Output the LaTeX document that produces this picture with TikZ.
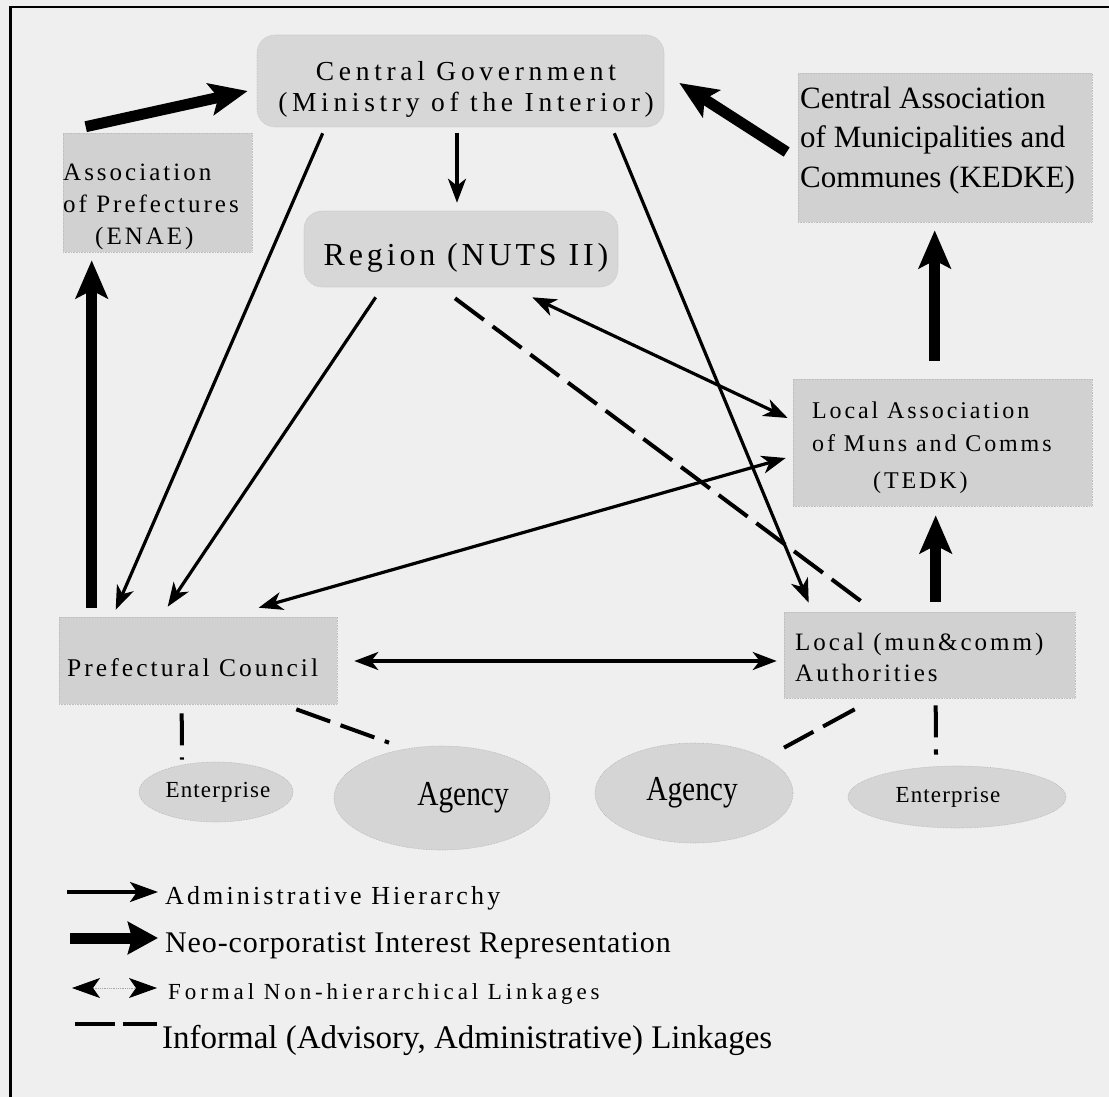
\documentclass[tikz,border=0pt]{standalone}
\usepackage{fontspec}
\setmainfont{Liberation Serif}
\newfontfamily\fa[LetterSpace=12]{Liberation Serif}
\newfontfamily\fb[LetterSpace=17]{Liberation Serif}
\newfontfamily\fc[LetterSpace=5]{Liberation Serif}
\newfontfamily\fd[LetterSpace=3]{Liberation Serif}
\usetikzlibrary{arrows.meta,shapes.geometric,calc}
\definecolor{bgc}{HTML}{EFEFEF}
\definecolor{boxfill}{HTML}{D1D1D1}
\definecolor{roundfill}{HTML}{D7D7D7}
\definecolor{ellfill}{HTML}{D5D5D5}
\begin{document}
\begin{tikzpicture}[x=1pt,y=-1pt,
  box/.style={rectangle, fill=boxfill, draw=black!25, densely dotted, line width=0.6pt, inner sep=0pt},
  rbox/.style={box, rounded corners=18pt, fill=roundfill},
  ell/.style={ellipse, fill=ellfill, draw=black!30, densely dotted, line width=0.6pt, inner sep=0pt},
  txt/.style={inner sep=0pt, text=black},
  adm/.style={line width=3.2pt, -{Stealth[length=24pt,width=18pt,inset=7pt]}},
  formal/.style={line width=3.2pt, {Stealth[length=24pt,width=18pt,inset=7pt]}-{Stealth[length=24pt,width=18pt,inset=7pt]}},
  neo/.style={line width=11pt, -{Stealth[length=38pt,width=32pt,inset=8pt]}},
  informal/.style={line width=4pt, dash pattern=on 36pt off 11pt},
  informalb/.style={line width=4pt, dash pattern=on 32pt off 12pt},
]
\useasboundingbox (0,0) rectangle (1109,1097);
\fill[bgc] (0,0) rectangle (1109,1097);
\draw[line width=2.5pt] (10.5,1097) -- (10.5,7) -- (1109,7);

% boxes
\node[rbox, minimum width=407pt, minimum height=92pt] (cg) at (460.5,81) {};
\node[box, minimum width=189pt, minimum height=119pt] (enae) at (157.5,192.5) {};
\node[rbox, minimum width=314pt, minimum height=76pt] (region) at (461,249) {};
\node[box, minimum width=294pt, minimum height=149pt] (kedke) at (945,147.5) {};
\node[box, minimum width=299pt, minimum height=127pt] (tedk) at (942.5,442.5) {};
\node[box, minimum width=278pt, minimum height=87pt] (pc) at (198,660.5) {};
\node[box, minimum width=291pt, minimum height=86pt] (la) at (929.5,655) {};
\node[ell, minimum width=146pt, minimum height=60pt, font=\fc\fontsize{23}{26}\selectfont] (entL) at (216,792) {\hspace*{4pt}Enterprise};
\node[ell, minimum width=216pt, minimum height=104pt, font=\fontsize{35}{38}\selectfont] (agL) at (442,798) {\hspace*{42pt}\scalebox{0.84}[1]{Agency}};
\node[ell, minimum width=198pt, minimum height=100pt, font=\fontsize{35}{38}\selectfont] (agR) at (694,793) {\scalebox{0.84}[1]{Agency}\hspace*{4pt}};
\node[ell, minimum width=218pt, minimum height=62pt, font=\fc\fontsize{23}{26}\selectfont] (entR) at (957,797) {Enterprise\hspace*{18pt}};

% box texts (base anchor = baseline of the last line)
\node[txt, anchor=base, align=center, font=\fb\fontsize{27.5}{31}\selectfont] (cgT) at (466,112) {Central Government\\(Ministry of the Interior)};
\node[txt, anchor=base west, align=left, font=\fa\fontsize{25}{32}\selectfont] (enaeT) at (63,244) {Association\\of Prefectures\\\hspace*{32pt}(ENAE)};
\node[txt, anchor=base, font=\fa\fontsize{32}{34}\selectfont] (regionT) at (466,265) {Region (NUTS II)};
\node[txt, anchor=base west, align=left, font=\fontsize{31}{39.5}\selectfont] (kedkeT) at (800,187) {Central Association\\of Municipalities and\\Communes (KEDKE)};
\node[txt, anchor=base west, align=left, font=\fa\fontsize{24}{33}\selectfont] (tedkT) at (812,488) {Local Association\\of Muns and Comms\\[4pt]\hspace*{61pt}(TEDK)};
\node[txt, anchor=base west, font=\fa\fontsize{25.5}{30}\selectfont] (pcT) at (67,676) {Prefectural Council};
\node[txt, anchor=base west, align=left, font=\fa\fontsize{25}{31}\selectfont] (laT) at (795,681) {Local (mun\&comm)\\Authorities};

% neo-corporatist arrows
\draw[neo] ($(enae.north west)+(23,-6)$) -- ($(cg.west)+(-9,10)$);
\draw[neo] ($(pc.north west)+(33,-9)$) -- ($(enae.south west)+(29,8)$);
\draw[neo] ($(kedke.west)+(-11,4.5)$) -- ($(cg.east)+(15,2)$);
\draw[neo] ($(la.north west)+(152,-10)$) -- ($(tedk.south west)+(143,9)$);
\draw[neo] ($(tedk.north west)+(142,-18)$) -- ($(kedke.south west)+(137,8)$);

% administrative hierarchy
\draw[adm] ($(cg.south)+(-3.5,6)$) -- ($(region.north)+(-4,-8)$);
\draw[adm] ($(cg.south west)+(66,6)$) -- ($(pc.north west)+(57,-7)$);
\draw[adm] ($(region.south west)+(72,10)$) -- ($(pc.north west)+(109,-10)$);
\draw[adm] ($(cg.south east)+(-50,6)$) -- ($(la.north west)+(25,-9)$);

% formal non-hierarchical
\draw[formal] ($(region.south east)+(-86,10)$) -- ($(tedk.west)+(-5,-24.5)$);
\draw[formal] ($(tedk.west)+(-7,15.5)$) -- ($(pc.north west)+(200,-9)$);
\draw[formal] ($(pc.east)+(17,0.5)$) -- ($(la.west)+(-7,6)$);

% informal
\draw[informal] ($(region.south)+(-6,11)$) -- ($(la.north west)+(78,-10)$);
\draw[informalb] ($(pc.south west)+(123,9)$) -- ($(entL.north)+(-34,-2)$);
\draw[informal] ($(pc.south east)+(-41,5)$) -- ($(agL.north)+(-53,-3)$);
\draw[informal] ($(la.south west)+(71,11)$) -- ($(agR.north)+(90,5)$);
\draw[informalb] ($(la.south west)+(152,7)$) -- ($(entR.north)+(-21,-11)$);

% legend
\coordinate (l1s) at (67,892); \coordinate (l1e) at (158,892);
\coordinate (l2s) at (70,938); \coordinate (l2e) at (158,938);
\coordinate (l3s) at (72,988); \coordinate (l3e) at (157,988);
\coordinate (l4s) at (75,1024); \coordinate (l4e) at (157,1024);
\draw[line width=3.5pt, -{Stealth[length=28pt,width=20pt,inset=7pt]}] (l1s) -- (l1e);
\draw[line width=11pt, -{Stealth[length=30pt,width=32pt,inset=4pt]}] (l2s) -- (l2e);
\draw[line width=0.8pt, black!35, densely dotted, {Stealth[length=28pt,width=20pt,inset=7pt,black]}-{Stealth[length=28pt,width=20pt,inset=7pt,black]}] (l3s) -- (l3e);
\draw[line width=4.5pt, dash pattern=on 40pt off 8pt] (l4s) -- (l4e);
\node[txt, anchor=base west, font=\fa\fontsize{26}{30}\selectfont] (lg1) at (165,904) {Administrative Hierarchy};
\node[txt, anchor=base west, font=\fd\fontsize{30}{34}\selectfont] (lg2) at (165,952) {Neo-corporatist Interest Representation};
\node[txt, anchor=base west, font=\fb\fontsize{23}{27}\selectfont] (lg3) at (168,999) {Formal Non-hierarchical Linkages};
\node[txt, anchor=base west, font=\fontsize{33}{37}\selectfont] (lg4) at (162,1048) {Informal (Advisory, Administrative) Linkages};
\end{tikzpicture}
\end{document}
